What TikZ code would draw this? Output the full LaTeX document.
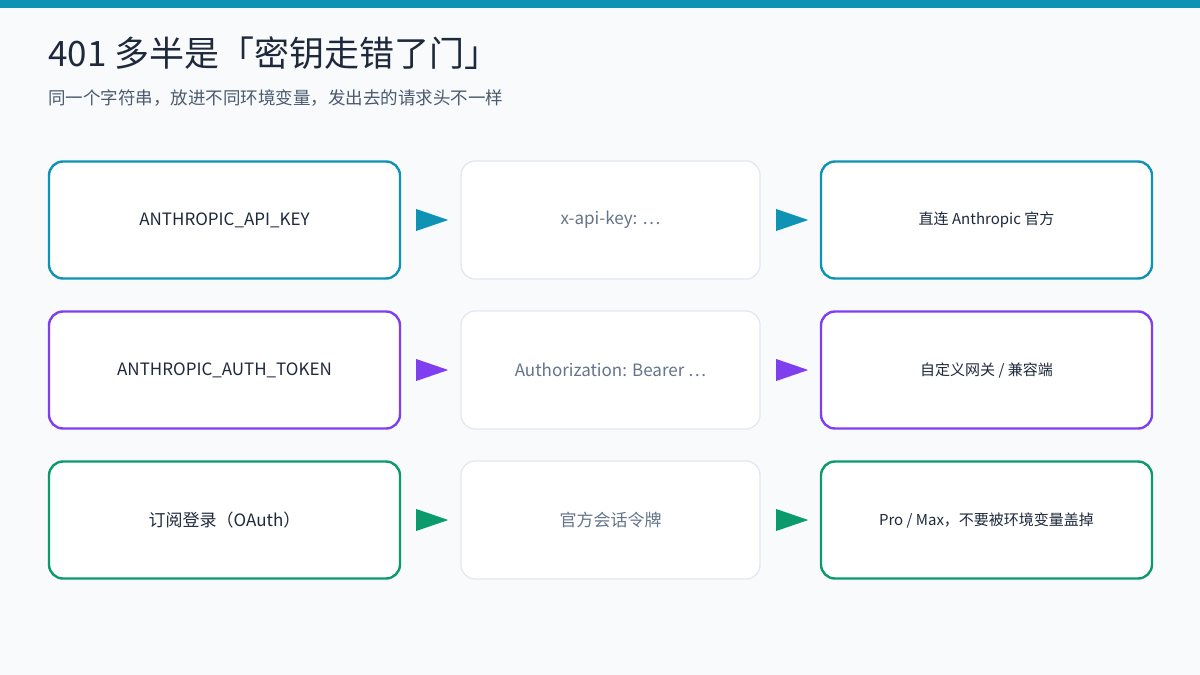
\documentclass[tikz,border=0pt]{standalone}
\usepackage{fontspec}
\setmainfont{Noto Sans CJK SC}
\usetikzlibrary{shapes.geometric}
\definecolor{bg}{HTML}{F8FAFC}
\definecolor{teal}{HTML}{0F93B4}
\definecolor{purp}{HTML}{7F3FEF}
\definecolor{grn}{HTML}{0A9A6C}
\definecolor{midb}{HTML}{E2E8F0}
\definecolor{ttl}{HTML}{1E293B}
\definecolor{sub}{HTML}{4B5A6E}
\definecolor{midt}{HTML}{64748B}
\begin{document}
\begin{tikzpicture}[x=1pt,y=-1pt,
 box/.style={draw=#1,line width=2.4pt,fill=white,rounded corners=14pt,minimum height=117pt,inner sep=0pt,font=\fontsize{17}{20}\selectfont,text=ttl},
 mid/.style={draw=midb,line width=1.3pt,fill=white,rounded corners=14pt,minimum width=299pt,minimum height=118pt,font=\fontsize{17}{20}\selectfont,text=midt},
 rb/.style={box=#1,minimum width=331pt,font=\fontsize{15}{18}\selectfont},
 lb/.style={box=#1,minimum width=351pt},
 tri/.style={isosceles triangle,isosceles triangle apex angle=38,isosceles triangle stretches,fill=#1,draw=none,minimum width=22pt,minimum height=32pt,inner sep=0pt,anchor=west}]
\fill[bg] (0,0) rectangle (1200,675);
\useasboundingbox (0,0) rectangle (1200,675);
\fill[teal] (0,0) rectangle (1200,8);
\node[anchor=base west,inner sep=0,text=ttl,font=\fontsize{35}{40}\selectfont] (title) at (48,66) {401 多半是「密钥走错了门」};
\node[anchor=base west,inner sep=0,text=sub,font=\fontsize{17.5}{20}\selectfont] (subt) at (48,104) {同一个字符串，放进不同环境变量，发出去的请求头不一样};
\foreach \y/\c/\a/\b/\d [count=\i] in {
 220/teal/{ANTHROPIC\_API\_KEY}/{x-api-key: ⋯}/{直连 Anthropic 官方},
 370/purp/{ANTHROPIC\_AUTH\_TOKEN}/{Authorization: Bearer ⋯}/{自定义网关 / 兼容端},
 520/grn/{订阅登录（OAuth）}/{官方会话令牌}/{Pro / Max，不要被环境变量盖掉}}{
 \node[lb=\c] (l\i) at (224.5,\y) {\a};
 \node[mid] (m\i) at (610.5,\y) {\b};
 \node[rb=\c] (r\i) at (986.5,\y) {\d};
 \node[tri=\c] (p\i) at (416,\y) {};
 \node[tri=\c] (q\i) at (776,\y) {};
}
\end{tikzpicture}
\end{document}
